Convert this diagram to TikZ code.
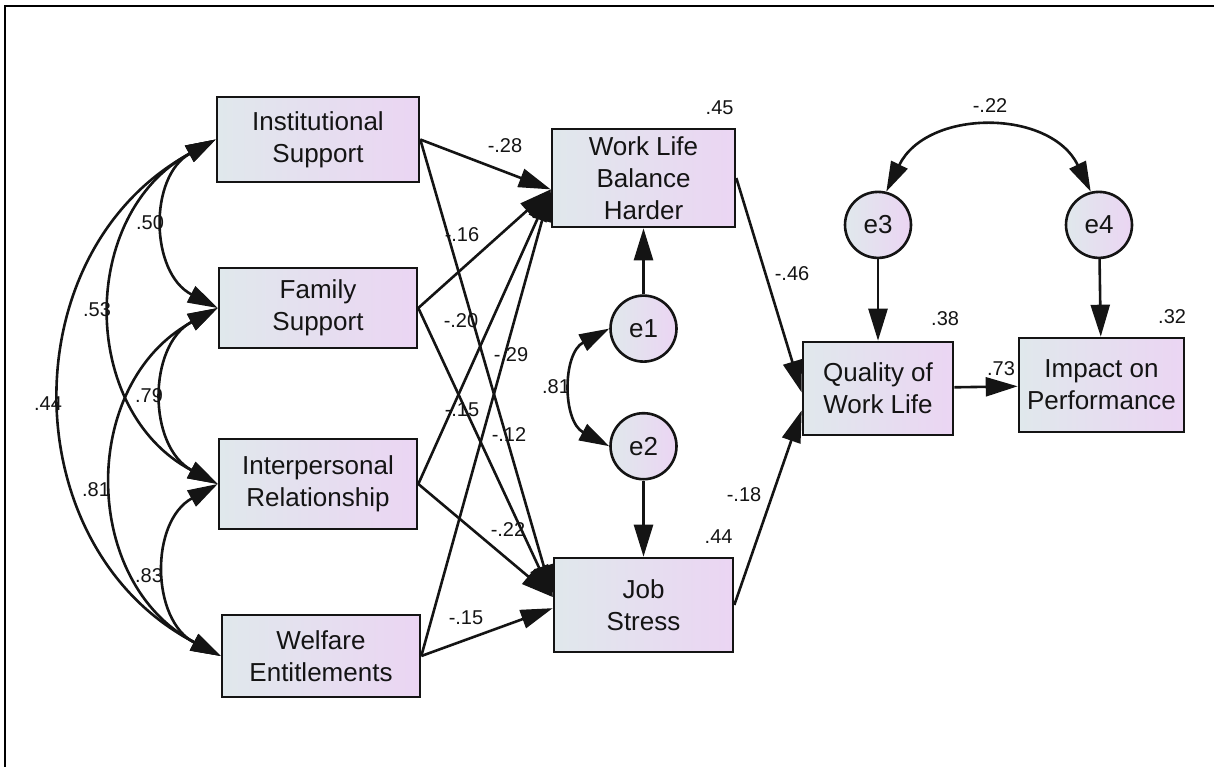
\documentclass[tikz,border=0pt]{standalone}
\usepackage{fontspec}
\setmainfont{Liberation Sans}
\usepackage{xcolor}
\usetikzlibrary{positioning,arrows.meta}
\definecolor{cLeft}{RGB}{224,232,236}
\definecolor{cRight}{RGB}{235,213,243}
\definecolor{cInk}{RGB}{20,20,20}

\begin{document}
\begin{tikzpicture}[x=1pt,y=1pt,line width=2.6pt,
   var/.style={draw=cInk,rectangle,left color=cLeft,right color=cRight,align=center,inner sep=0pt,
     font=\fontsize{26}{32}\selectfont,text=cInk},
   err/.style={draw=cInk,circle,minimum size=66pt,left color=cLeft,right color=cRight,inner sep=0pt,
     font=\fontsize{26}{32}\selectfont,text=cInk},
   lbl/.style={inner sep=0pt,font=\fontsize{20}{22}\selectfont,text=cInk},
   path/.style={draw=cInk,-{Triangle[length=32pt,width=19pt]}},
   cov/.style={draw=cInk,{Triangle[length=30pt,width=18pt]}-{Triangle[length=30pt,width=18pt]},
     looseness=1.16}]
  \useasboundingbox (0,0) rectangle (1214,-767);
  \draw[line width=2pt] (1214,-6) -- (5,-6) -- (5,-767);

  % exogenous column
  \node[var,minimum width=202pt,minimum height=85pt] (is) at (318,-139.5) {Institutional\\ Support};
  \node[var,minimum width=198pt,minimum height=80pt] (fs) at (318,-308) {Family\\ Support};
  \node[var,minimum width=198pt,minimum height=90pt] (ir) at (318,-484) {Interpersonal\\ Relationship};
  \node[var,minimum width=198pt,minimum height=82pt] (we) at (321,-656) {Welfare\\ Entitlements};

  % mediators and outcomes
  \node[var,minimum width=183pt,minimum height=98pt] (wlb) at (643.5,-178) {Work Life\\ Balance\\ Harder};
  \node[var,minimum width=179pt,minimum height=94pt] (js) at (643.5,-605) {Job\\ Stress};
  \node[var,minimum width=150pt,minimum height=93pt] (qwl) at (878,-388.5) {Quality of\\ Work Life};
  \node[var,minimum width=165pt,minimum height=94pt] (imp) at (1101.5,-385) {Impact on\\ Performance};

  \node[err,below=66pt of wlb] (e1) {e1};
  \node[err,below=49pt of e1] (e2) {e2};
  \node[err,above=81.5pt of qwl] (e3) {e3};
  \node[err,above=77.5pt of imp.north,anchor=south,xshift=-2.5pt] (e4) {e4};

  % squared multiple correlations
  \node[lbl,above left=11.5pt and 1.5pt of wlb.north east] (rwlb) {.45};
  \node[lbl,above left=11.5pt and 0.5pt of js.north east] (rjs) {.44};
  \node[lbl,above left=14pt and -6pt of qwl.north east] (rqwl) {.38};
  \node[lbl,above left=11.5pt and -2pt of imp.north east] (rimp) {.32};

  % regression paths
  \draw[path] (is.east) -- (wlb.187);
  \draw[path] (is.east) -- (js.175.5);
  \draw[path] (fs.east) -- (wlb.187);
  \draw[path] (fs.east) -- (js.175.5);
  \draw[path] (ir.east) -- (wlb.187);
  \draw[path] (ir.east) -- (js.175.5);
  \draw[path] (we.east) -- (wlb.187);
  \draw[path] (we.east) -- (js.182);
  \draw[path] (wlb.east) -- (qwl.183);
  \draw[path] (js.east) -- (qwl.196);
  \draw[path] (qwl) -- (imp);
  \draw[path] (e1) -- (wlb);
  \draw[path] (e2) -- (js);
  \draw[path] (e3) -- (qwl);
  \draw[path] (e4) -- (imp);

  % covariances
  \draw[cov] (is.west) to[bend right=62] (fs.west);
  \draw[cov] (fs.west) to[bend right=62] (ir.west);
  \draw[cov] (ir.west) to[bend right=62] (we.west);
  \draw[cov] (is.west) to[bend right=62] (ir.west);
  \draw[cov] (fs.west) to[bend right=62] (we.west);
  \draw[cov] (is.west) to[bend right=62] (we.west);
  \draw[cov] (e1.west) to[bend right=62] (e2.west);
  \draw[cov] (e3.76) to[bend left=64] (e4.104);

  % path coefficients
  \node[lbl] (bis1) at (505,-146) {-.28};
  \node[lbl] (bis2) at (462,-235) {-.16};
  \node[lbl] (bfs1) at (461,-321) {-.20};
  \node[lbl] (bfs2) at (511,-355) {-.29};
  \node[lbl] (bir1) at (462,-410) {-.15};
  \node[lbl] (bir2) at (509,-435) {-.12};
  \node[lbl] (bir3) at (508,-530) {-.22};
  \node[lbl] (bwe2) at (466,-618) {-.15};
  \node[lbl] (bwlb) at (792,-274) {-.46};
  \node[lbl] (bjs) at (744,-495) {-.18};
  \node[lbl] (bqwl) at (1001,-369) {.73};

  % correlations
  \node[lbl] (c12) at (150,-223) {.50};
  \node[lbl] (c13) at (97,-310) {.53};
  \node[lbl] (c14) at (48,-404) {.44};
  \node[lbl] (c23) at (149,-396) {.79};
  \node[lbl] (c24) at (96,-490) {.81};
  \node[lbl] (c34) at (149,-576) {.83};
  \node[lbl] (ce12) at (556,-387) {.81};
  \node[lbl] (ce34) at (990,-106) {-.22};
\end{tikzpicture}
\end{document}
